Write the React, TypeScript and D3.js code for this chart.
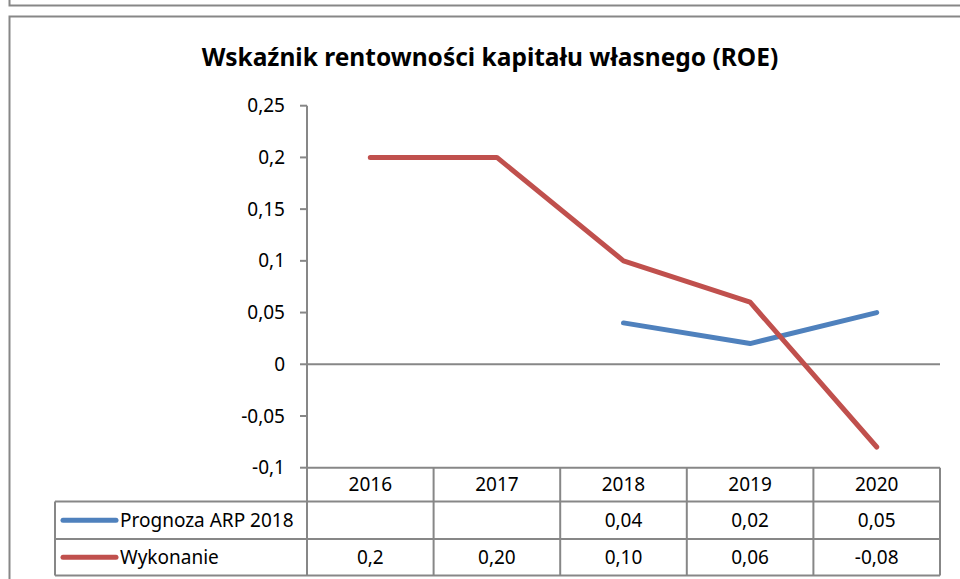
import React from 'react';
import * as d3 from 'd3';

const years = ['2016', '2017', '2018', '2019', '2020'];
const prognoza: (number | null)[] = [null, null, 0.04, 0.02, 0.05];
const wykonanie: (number | null)[] = [0.2, 0.2, 0.1, 0.06, -0.08];
const prognozaLabels = ['', '', '0,04', '0,02', '0,05'];
const wykonanieLabels = ['0,2', '0,20', '0,10', '0,06', '-0,08'];
const yTicks = [0.25, 0.2, 0.15, 0.1, 0.05, 0, -0.05, -0.1];

const series = [
  { name: 'Prognoza ARP 2018', values: prognoza, labels: prognozaLabels, color: '#4F81BD' },
  { name: 'Wykonanie', values: wykonanie, labels: wykonanieLabels, color: '#C0504D' },
];

const W = 960;
const H = 579;
const grid = '#878787';
const font = '"Noto Sans", "Open Sans", sans-serif';

const fmt = (v: number) => (v === 0 ? '0' : String(v).replace('.', ','));

const App: React.FC = () => {
  const x = d3.scaleBand<string>().domain(years).range([307, 940]);
  const y = d3.scaleLinear().domain([-0.1, 0.25]).range([467.7, 105.7]);

  const line = d3.line<{ year: string; v: number | null }>()
    .defined(d => d.v !== null)
    .x(d => (x(d.year) as number) + x.bandwidth() / 2)
    .y(d => y(d.v as number));

  const rowTops = [467.7, 501.5, 539, 575.5];
  const legendLeft = 55;

  return (
    <svg width={W} height={H} style={{ position: 'absolute', left: 0, top: 0, background: '#fff' }}>
      {/* top box edge */}
      <path d={`M9.5,0 V5.5 H${W}`} fill="none" stroke={grid} strokeWidth={2} />
      {/* chart frame */}
      <path d={`M${W},16.5 H9.5 V${H}`} fill="none" stroke={grid} strokeWidth={2} />

      <text x={490} y={66} textAnchor="middle" fontFamily={font} fontWeight="bold"
        fontSize={24.5} fill="#000">
        Wskaźnik rentowności kapitału własnego (ROE)
      </text>

      {/* y axis */}
      <line x1={307} x2={307} y1={y(0.25)} y2={rowTops[3]} stroke={grid} strokeWidth={2} />
      {yTicks.map(t => (
        <g key={t}>
          <line x1={300} x2={307} y1={y(t)} y2={y(t)} stroke={grid} strokeWidth={2} />
          <text x={285} y={y(t)} dy="0.35em" textAnchor="end" fontFamily={font}
            fontSize={19} fill="#000">{fmt(t)}</text>
        </g>
      ))}
      {/* zero line */}
      <line x1={307} x2={940} y1={y(0)} y2={y(0)} stroke={grid} strokeWidth={2} />

      {/* data table grid */}
      <line x1={307} x2={940} y1={rowTops[0]} y2={rowTops[0]} stroke={grid} strokeWidth={2} />
      {rowTops.slice(1).map(r => (
        <line key={r} x1={legendLeft} x2={940} y1={r} y2={r} stroke={grid} strokeWidth={2} />
      ))}
      <line x1={legendLeft} x2={legendLeft} y1={rowTops[1]} y2={rowTops[3]} stroke={grid} strokeWidth={2} />
      {years.map(yr => (
        <line key={yr} x1={(x(yr) as number) + x.bandwidth()} x2={(x(yr) as number) + x.bandwidth()}
          y1={rowTops[0]} y2={rowTops[3]} stroke={grid} strokeWidth={2} />
      ))}
      {years.map(yr => (
        <text key={yr} x={(x(yr) as number) + x.bandwidth() / 2} y={(rowTops[0] + rowTops[1]) / 2}
          dy="0.35em" textAnchor="middle" fontFamily={font} fontSize={19} fill="#000">{yr}</text>
      ))}
      {series.map((s, i) => {
        const cy = (rowTops[i + 1] + rowTops[i + 2]) / 2;
        return (
          <g key={s.name}>
            <line x1={63} x2={116} y1={cy} y2={cy} stroke={s.color} strokeWidth={5} strokeLinecap="round" />
            <text x={120} y={cy} dy="0.35em" fontFamily={font} fontSize={19} fill="#000">{s.name}</text>
            {s.labels.map((l, j) => (
              <text key={j} x={(x(years[j]) as number) + x.bandwidth() / 2} y={cy} dy="0.35em"
                textAnchor="middle" fontFamily={font} fontSize={19} fill="#000">{l}</text>
            ))}
          </g>
        );
      })}

      {/* series lines */}
      {series.map(s => (
        <path key={s.name} d={line(years.map((yr, j) => ({ year: yr, v: s.values[j] }))) || ''}
          fill="none" stroke={s.color} strokeWidth={5} strokeLinecap="round" strokeLinejoin="round" />
      ))}
    </svg>
  );
};

export default App;
